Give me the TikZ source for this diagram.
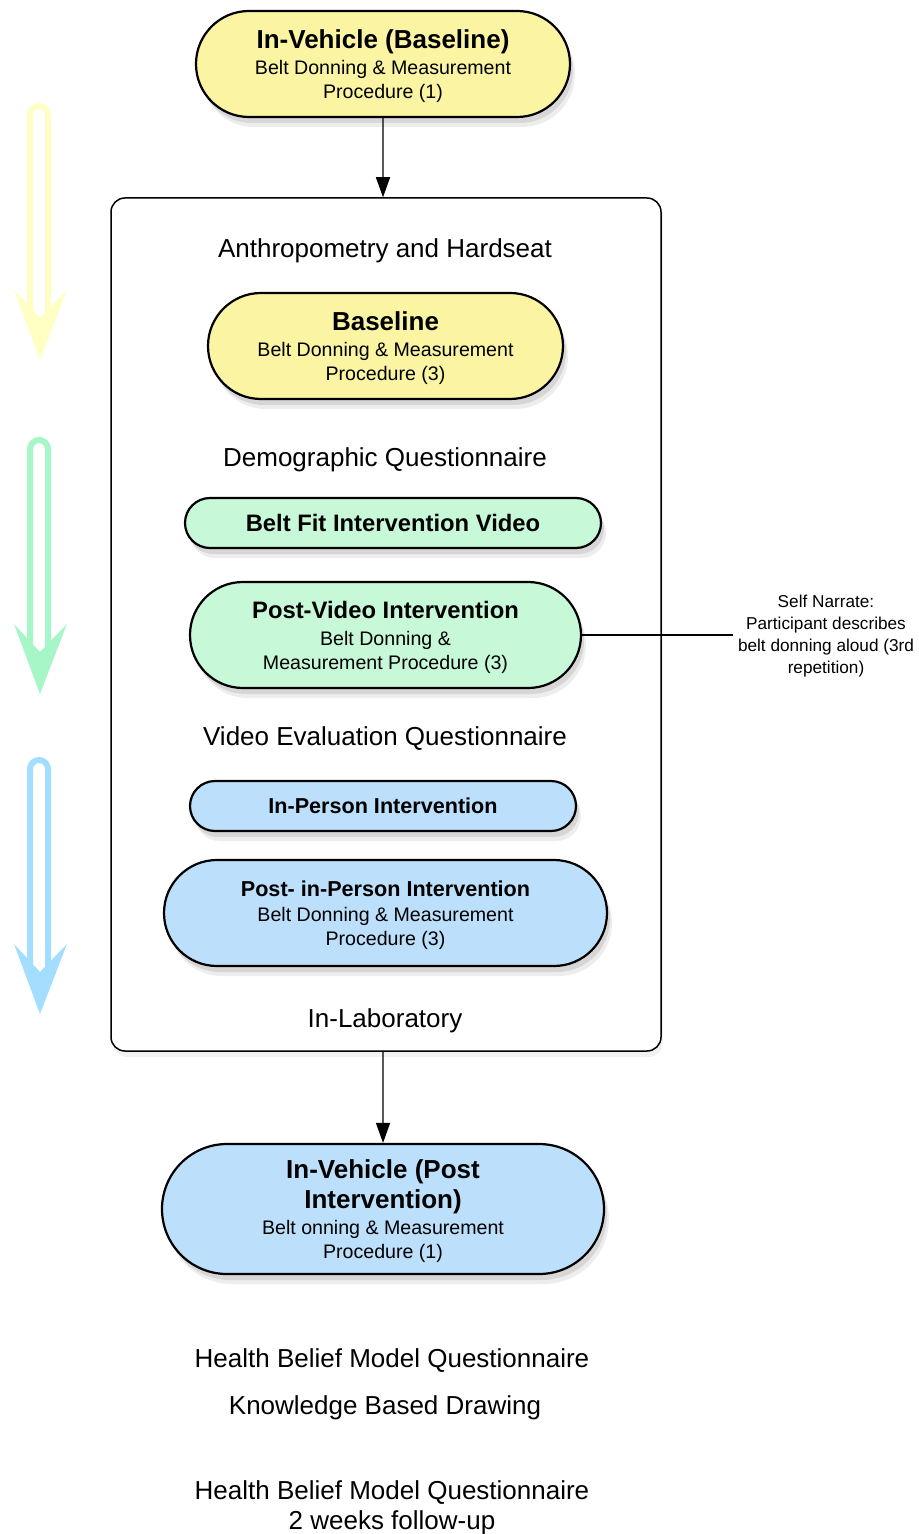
\documentclass[tikz,border=0pt]{standalone}
\usepackage{fontspec}
\setmainfont{Liberation Sans}
\usetikzlibrary{arrows.meta, shapes.misc, shadows}

\definecolor{stageyellow}{RGB}{251,245,163}
\definecolor{stagegreen}{RGB}{199,248,216}
\definecolor{stageblue}{RGB}{188,224,251}
\definecolor{flowyellow}{RGB}{255,255,196}
\definecolor{flowgreen}{RGB}{166,246,200}
\definecolor{flowblue}{RGB}{163,221,255}

\newcommand{\stagetitle}[1]{{\fontsize{13}{15}\selectfont\bfseries #1}}

\begin{document}
\begin{tikzpicture}[x=0.5pt, y=-0.5pt, every node/.style={align=center},
  soft shadow/.style={drop shadow={shadow xshift=1.5pt, shadow yshift=-3pt, opacity=0.2},
                      drop shadow={shadow xshift=2.5pt, shadow yshift=-5pt, opacity=0.14}},
  stage/.style={draw, line width=1.1pt, rounded rectangle, inner sep=0pt, text depth=0pt,
                font=\fontsize{9.8}{12}\selectfont, soft shadow},
  phase/.style={font=\fontsize{13}{15}\selectfont}]
\useasboundingbox (0,0) rectangle (919,1534);

% Time flow arrows
\foreach \col/\tail in {flowyellow/103, flowgreen/437, flowblue/757} {
  \draw[\col, line width=3pt] (30,\tail+218) -- (30,\tail+12) arc (180:360:9) -- (48,\tail+218);
  \fill[\col] (14,\tail+187) -- (40,\tail+257) -- (67,\tail+187) -- (40,\tail+215) -- cycle;
}

% Base nodes
\node (VehBase) [stage, fill=stageyellow, minimum width=187pt, minimum height=53pt] at (383,64)
  {\stagetitle{In-Vehicle (Baseline)}\\[1pt] Belt Donning \& Measurement\\ Procedure (1)};
\node (Lab) [draw, line width=0.75pt, rounded corners=7pt, fill=white, minimum width=275pt,
  minimum height=426.5pt, drop shadow={shadow xshift=1pt, shadow yshift=-3pt, opacity=0.1}] at (386,624.5) {};

% Laboratory session
\node (Anthro) [phase] at (385,251) {Anthropometry and Hardseat};
\node (Baseline) [stage, fill=stageyellow, minimum width=177.5pt, minimum height=53pt] at (385.5,346)
  {\stagetitle{Baseline}\\[1pt] Belt Donning \& Measurement\\ Procedure (3)};
\node (Demog) [phase] at (385,460) {Demographic Questionnaire};
\node (FitVideo) [stage, fill=stagegreen, minimum width=208pt, minimum height=25pt] at (393,523)
  {\bfseries\fontsize{11.9}{14}\selectfont Belt Fit Intervention Video};
\node (PostVideo) [stage, fill=stagegreen, minimum width=195.5pt, minimum height=53pt] at (385.5,635)
  {{\bfseries\fontsize{11.9}{14}\selectfont Post-Video Intervention}\\[1.5pt] Belt Donning \&\\ Measurement Procedure (3)};
\node (VidEval) [phase] at (385,739) {Video Evaluation Questionnaire};
\node (InPerson) [stage, fill=stageblue, minimum width=193pt, minimum height=25pt] at (383,806)
  {\bfseries\fontsize{10.8}{13}\selectfont In-Person Intervention};
\node (PostPerson) [stage, fill=stageblue, minimum width=221.5pt, minimum height=53pt] at (385.5,913)
  {{\bfseries\fontsize{10.8}{13}\selectfont Post- in-Person Intervention}\\[0.5pt] Belt Donning \& Measurement\\ Procedure (3)};
\node (InLab) [phase] at (385,1021) {In-Laboratory};

% Side note
\node (Narrate) [font=\fontsize{8.6}{11}\selectfont, inner sep=2.5pt] at (826,636.5)
  {Self Narrate:\\ Participant describes\\ belt donning aloud (3rd\\ repetition)};

% Follow-up
\node (VehPost) [stage, fill=stageblue, minimum width=221pt, minimum height=65pt] at (383,1209)
  {\stagetitle{In-Vehicle (Post}\\[2pt] \stagetitle{Intervention)}\\[1pt] Belt onning \& Measurement\\ Procedure (1)};
\node (HBM) [phase] at (392,1361) {Health Belief Model Questionnaire};
\node (KBD) [phase] at (385,1408) {Knowledge Based Drawing};
\node (FollowUp) [phase] at (392,1508) {Health Belief Model Questionnaire\\ 2 weeks follow-up};

% Arrows
\draw[-{Triangle[length=10pt, width=7pt]}, line width=0.7pt] (VehBase) -- (VehBase |- Lab.north);
\draw[-{Triangle[length=10pt, width=7pt]}, line width=0.7pt] (Lab.south -| VehPost) -- (VehPost);
\draw[line width=0.7pt] (PostVideo.east) -- (PostVideo.east -| Narrate.west);
\end{tikzpicture}
\end{document}
